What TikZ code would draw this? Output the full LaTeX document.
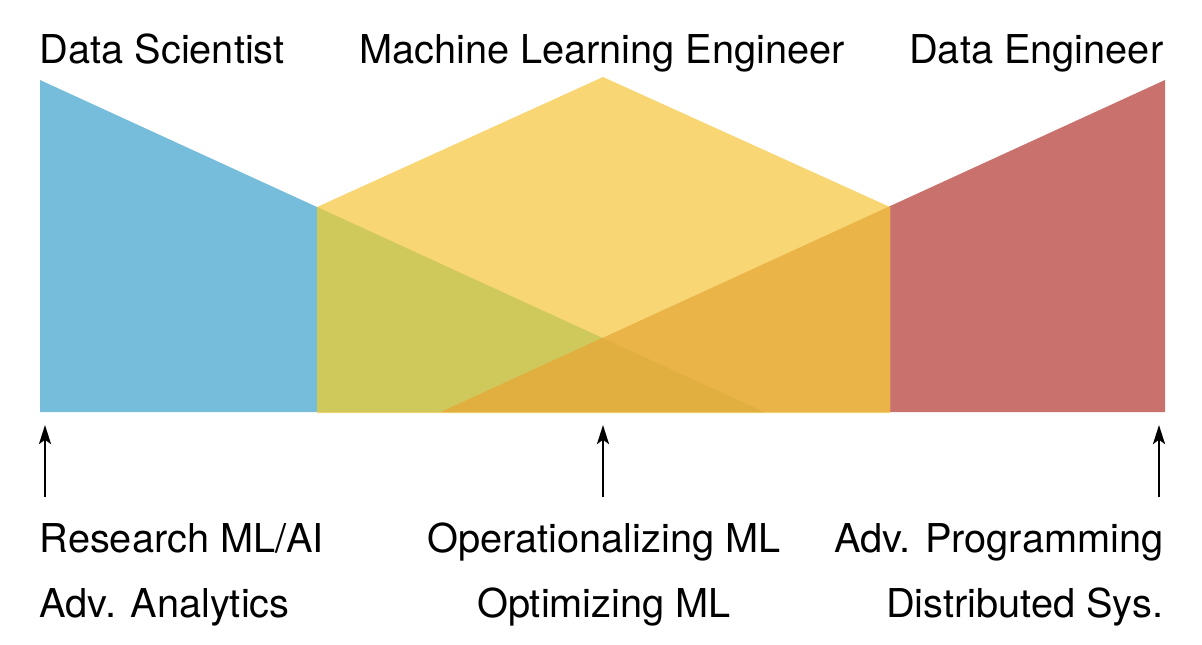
\documentclass[tikz,border=0pt]{standalone}
\usepackage{fontspec}
\setmainfont{TeX Gyre Heros}
\usetikzlibrary{arrows.meta}

\definecolor{dsblue}{HTML}{76BCDB}
\definecolor{dered}{HTML}{C8716D}
\definecolor{mleyellow}{HTML}{F8D673}
\definecolor{dsmle}{HTML}{CFC85B}
\definecolor{demle}{HTML}{EAB449}
\definecolor{allthree}{HTML}{E0AF3F}

\begin{document}
\begin{tikzpicture}
        [x=0.01cm, y=-0.01cm,
        role/.style={inner sep=0pt, font=\fontsize{11.3pt}{13pt}\selectfont},
        skill/.style={inner sep=0pt, font=\fontsize{11.3pt}{13pt}\selectfont},
        pointer/.style={line width=0.75pt, -{Stealth[length=5.4pt, width=3.4pt, inset=1.2pt]}},
        ]
        \useasboundingbox (0,0) rectangle (1202,644);
        % Corners of the three shapes
        \coordinate (dsTop) at (40,80);
        \coordinate (dsBase) at (40,412);
        \coordinate (dsEnd) at (764,412);
        \coordinate (deTop) at (1165,80);
        \coordinate (deBase) at (1165,412);
        \coordinate (deEnd) at (441,412);
        \coordinate (mleLeft) at (317,207);
        \coordinate (mleApex) at (603,77);
        \coordinate (mleRight) at (890,207);
        \coordinate (mleRightBase) at (890,413);
        \coordinate (mleLeftBase) at (317,413);
        \fill[dsblue] (dsTop) -- (dsBase) -- (dsEnd) -- cycle;
        \fill[dered] (deTop) -- (deBase) -- (deEnd) -- cycle;
        \fill[mleyellow] (mleLeft) -- (mleApex) -- (mleRight) -- (mleRightBase) -- (mleLeftBase) -- cycle;
        % Overlaps
        \begin{scope}
          \clip (dsTop) -- (dsBase) -- (dsEnd) -- cycle;
          \fill[dsmle] (mleLeft) -- (mleApex) -- (mleRight) -- (mleRightBase) -- (mleLeftBase) -- cycle;
        \end{scope}
        \begin{scope}
          \clip (deTop) -- (deBase) -- (deEnd) -- cycle;
          \fill[demle] (mleLeft) -- (mleApex) -- (mleRight) -- (mleRightBase) -- (mleLeftBase) -- cycle;
          \clip (dsTop) -- (dsBase) -- (dsEnd) -- cycle;
          \fill[allthree] (mleLeft) -- (mleApex) -- (mleRight) -- (mleRightBase) -- (mleLeftBase) -- cycle;
        \end{scope}
        % Roles
        \node[role, anchor=base west] (dsRole) at (39,63) {Data Scientist};
        \node[role, anchor=base] (mleRole) at (602,63) {Machine Learning Engineer};
        \node[role, anchor=base east] (deRole) at (1164,63) {Data Engineer};
        % Skills
        \node[skill, anchor=base west] (dsSkillA) at (39,552) {Research ML/AI};
        \node[skill, anchor=base west] (dsSkillB) at (39,617) {Adv. Analytics};
        \node[skill, anchor=base] (mleSkillA) at (604,552) {Operationalizing ML};
        \node[skill, anchor=base] (mleSkillB) at (604,617) {Optimizing ML};
        \node[skill, anchor=base east] (deSkillA) at (1164,552) {Adv. Programming};
        \node[skill, anchor=base east] (deSkillB) at (1164,617) {Distributed Sys.};
        % Arrows
        \coordinate (dsTail) at (45,497);
        \coordinate (dsTip) at (45,425);
        \coordinate (mleTail) at (603,497);
        \coordinate (mleTip) at (603,425);
        \coordinate (deTail) at (1159,497);
        \coordinate (deTip) at (1159,425);
        \draw[pointer] (dsTail) -- (dsTip);
        \draw[pointer] (mleTail) -- (mleTip);
        \draw[pointer] (deTail) -- (deTip);
      \end{tikzpicture}
\end{document}
